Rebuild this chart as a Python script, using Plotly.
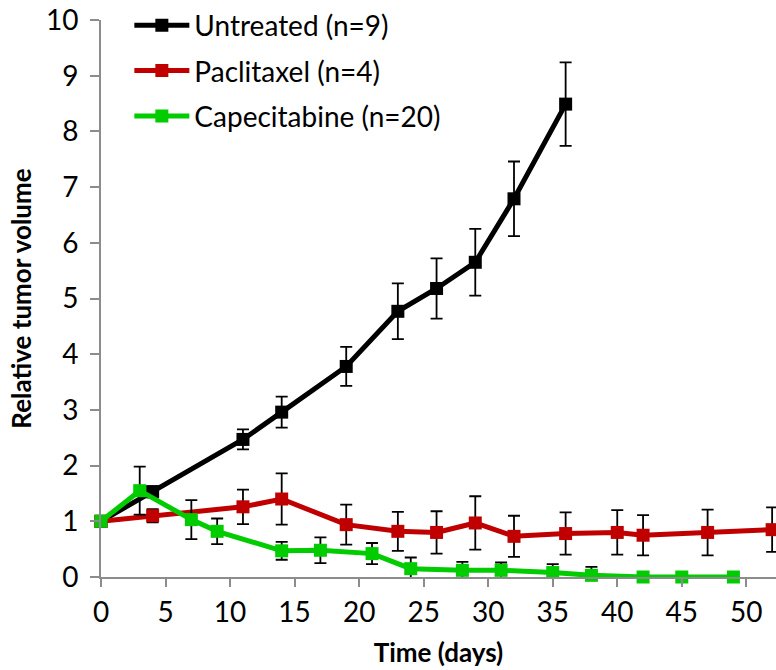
import plotly.graph_objects as go

# ---- data ----
days_untreated = [0, 4, 11, 14, 19, 23, 26, 29, 32, 36]
untreated = [1.0, 1.53, 2.47, 2.96, 3.78, 4.77, 5.18, 5.65, 6.79, 8.49]
untreated_err = [0, 0.1, 0.18, 0.28, 0.35, 0.5, 0.54, 0.6, 0.67, 0.75]

days_paclitaxel = [0, 4, 11, 14, 19, 23, 26, 29, 32, 36, 40, 42, 47, 52]
paclitaxel = [1.0, 1.10, 1.26, 1.40, 0.94, 0.82, 0.80, 0.97, 0.73, 0.78, 0.80, 0.75, 0.80, 0.85]
paclitaxel_err = [0, 0.12, 0.31, 0.46, 0.36, 0.35, 0.38, 0.48, 0.37, 0.38, 0.40, 0.36, 0.41, 0.40]

days_capecitabine = [0, 3, 7, 9, 14, 17, 21, 24, 28, 31, 35, 38, 42, 45, 49]
capecitabine = [1.0, 1.55, 1.03, 0.82, 0.47, 0.48, 0.42, 0.15, 0.12, 0.12, 0.08, 0.03, 0.0, 0.0, 0.0]
capecitabine_err = [0, 0.43, 0.35, 0.23, 0.16, 0.23, 0.19, 0.20, 0.15, 0.14, 0.15, 0.15, 0, 0, 0]

series_names = ["Untreated (n=9)", "Paclitaxel (n=4)", "Capecitabine (n=20)"]
x_ticks = [0, 5, 10, 15, 20, 25, 30, 35, 40, 45, 50]
y_ticks = [0, 1, 2, 3, 4, 5, 6, 7, 8, 9, 10]

colors = ["#000000", "#C00000", "#00CC00"]
FONT = "Lato, Carlito, Calibri, sans-serif"

fig = go.Figure()
for i, (xs, ys, es) in enumerate([
    (days_untreated, untreated, untreated_err),
    (days_paclitaxel, paclitaxel, paclitaxel_err),
    (days_capecitabine, capecitabine, capecitabine_err),
]):
    fig.add_trace(go.Scatter(
        x=xs, y=ys, name=series_names[i], mode="lines+markers",
        legendgroup=f"g{i}",
        line=dict(color=colors[i], width=5),
        marker=dict(symbol="square", size=13, color=colors[i]),
        error_y=dict(type="data", array=es, visible=True, color="#000000",
                     thickness=1.8, width=6),
        cliponaxis=False,
    ))

axis_common = dict(
    showgrid=False, zeroline=False, showline=True, linecolor="#8C8C8C", linewidth=2,
    ticks="outside", tickcolor="#8C8C8C", tickwidth=2, automargin=False,
    tickfont=dict(family=FONT, size=28, color="#000000"),
)

fig.update_layout(
    width=776, height=670,
    margin=dict(l=101, r=0, t=18, b=93),
    plot_bgcolor="white", paper_bgcolor="white",
    font=dict(family=FONT, color="#000000"),
    xaxis=dict(range=[0, 52.3], tickvals=x_ticks, ticklen=8, ticklabelstandoff=1,
               title=dict(text="<b>Time (days)</b>", font=dict(family=FONT, size=26), standoff=17),
               **axis_common),
    yaxis=dict(range=[0, 10], tickvals=y_ticks, ticklen=9, ticklabelstandoff=6,
               title=dict(text="<b>Relative tumor volume</b>", font=dict(family=FONT, size=26), standoff=7),
               **axis_common),
    legend=dict(x=0.042, y=1.035, xanchor="left", yanchor="top",
                font=dict(family=FONT, size=28, color="#000000"),
                bgcolor="rgba(0,0,0,0)", itemwidth=55, tracegroupgap=6),
    showlegend=True,
)

fig.write_html("out.html", config={"displayModeBar": False},
               post_script="document.body.style.margin='0';")
